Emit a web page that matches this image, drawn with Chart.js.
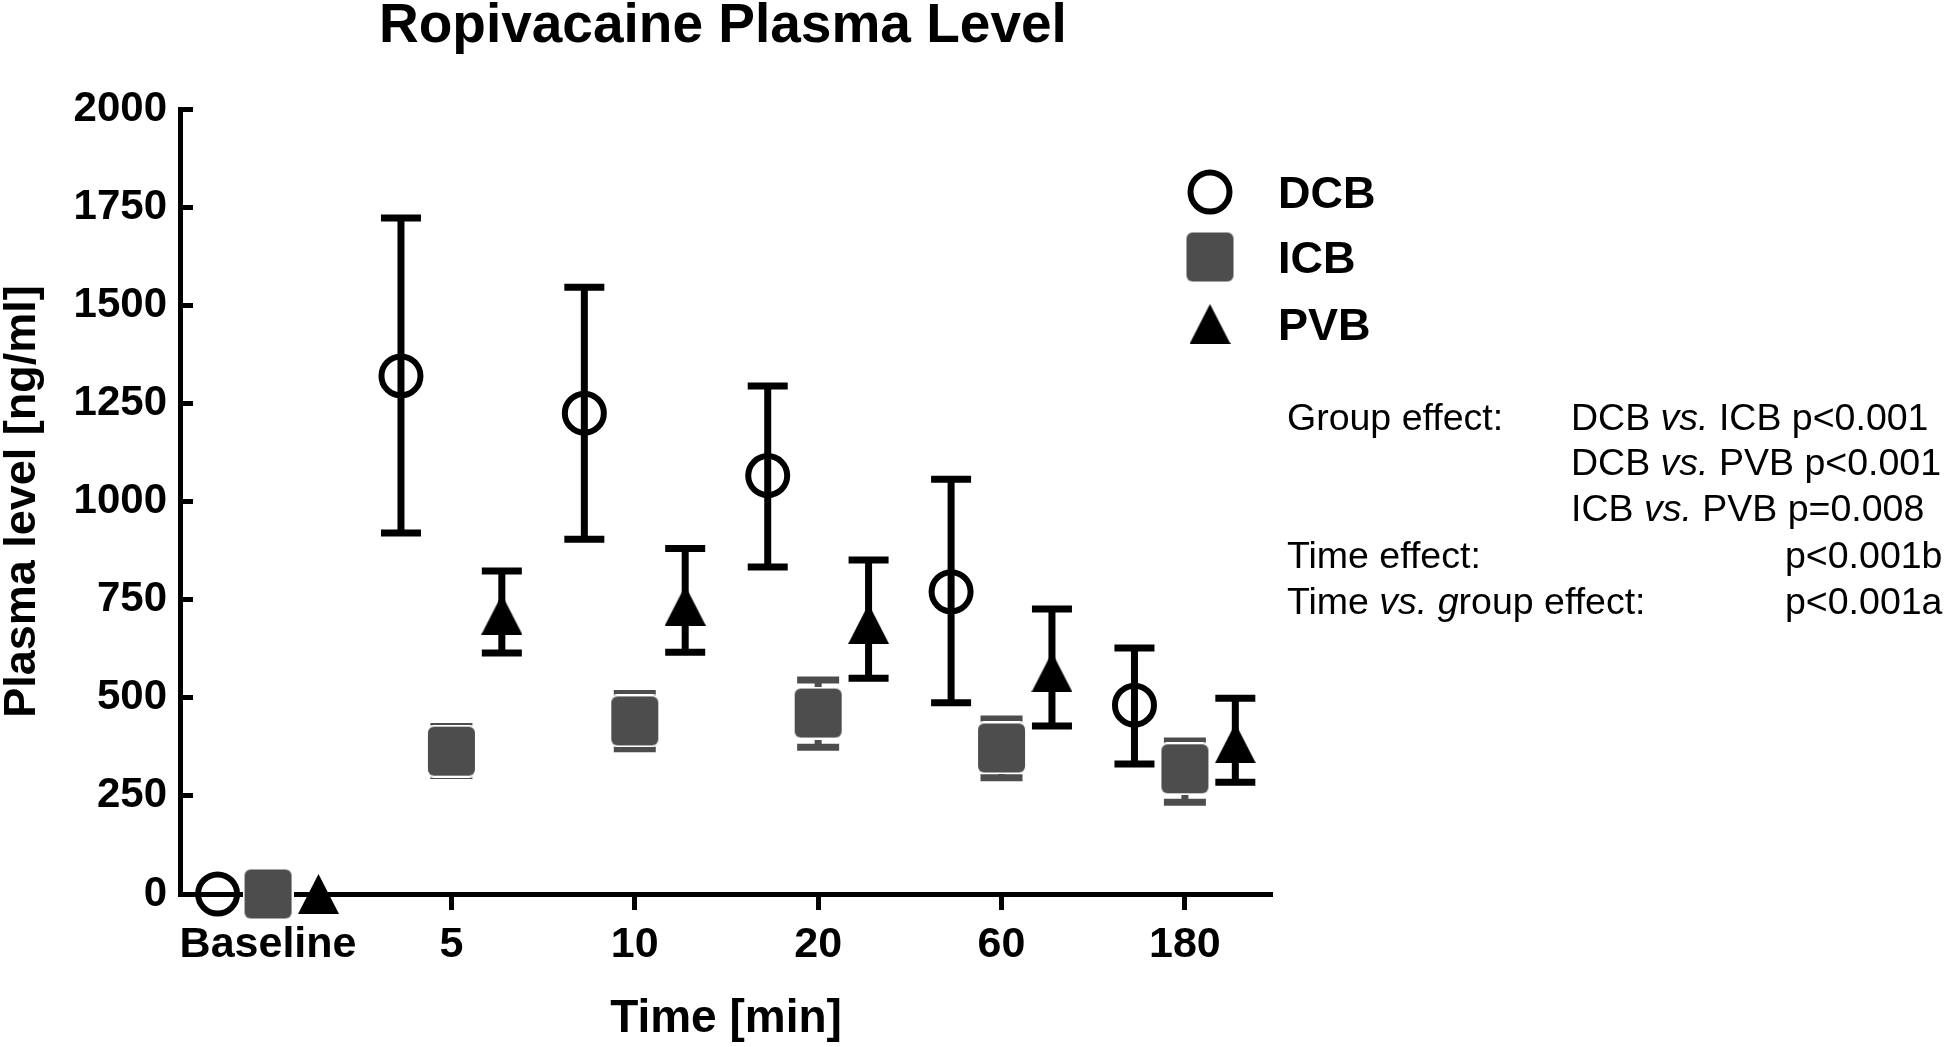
<!DOCTYPE html>
<html>
<head>
<meta charset="utf-8">
<script src="https://cdn.jsdelivr.net/npm/chart.js@4.4.1/dist/chart.umd.min.js"></script>
<style>
  html, body { margin: 0; padding: 0; background: #fff; }
  #wrap { position: relative; width: 1946px; height: 1047px; font-family: "Liberation Sans", Arial, sans-serif; color: #000; }
  #chart { position: absolute; left: 0; top: 0; }
  .txt { position: absolute; white-space: nowrap; }
  .title { left: 379px; top: -4px; font-size: 55px; line-height: 55px; font-weight: bold; }
  .leg { left: 1278px; font-size: 45px; line-height: 45px; font-weight: bold; }
  .stat { font-size: 37.5px; line-height: 37.5px; }
</style>
</head>
<body>
<div id="wrap">
  <canvas id="chart" width="1946" height="1047"></canvas>
  <div class="txt title">Ropivacaine Plasma Level</div>
  <div class="txt leg" style="top:170px">DCB</div>
  <div class="txt leg" style="top:235px">ICB</div>
  <div class="txt leg" style="top:302px">PVB</div>
  <div class="txt stat" style="left:1287px;top:399px">Group effect:</div>
  <div class="txt stat" style="left:1571px;top:399px">DCB <i>vs.</i> ICB p&lt;0.001</div>
  <div class="txt stat" style="left:1571px;top:444px">DCB <i>vs.</i> PVB p&lt;0.001</div>
  <div class="txt stat" style="left:1571px;top:490px">ICB <i>vs.</i> PVB p=0.008</div>
  <div class="txt stat" style="left:1287px;top:537px">Time effect:</div>
  <div class="txt stat" style="left:1785px;top:537px">p&lt;0.001b</div>
  <div class="txt stat" style="left:1287px;top:583px">Time <i>vs. g</i>roup effect:</div>
  <div class="txt stat" style="left:1785px;top:583px">p&lt;0.001a</div>
</div>
<script>
const timeLabels = ["Baseline", "5", "10", "20", "60", "180"];

const dcbMean = [0, 1320, 1225, 1066, 770, 481];
const dcbUpper = [0, 1722, 1546, 1294, 1057, 627];
const dcbLower = [0, 920, 904, 833, 487, 331];

const icbMean = [0, 364, 441, 461, 372, 319];
const icbUpper = [0, 427, 511, 545, 446, 390];
const icbLower = [0, 302, 370, 374, 296, 234];

const pvbMean = [0, 712, 735, 688, 565, 384];
const pvbUpper = [0, 823, 880, 851, 726, 499];
const pvbLower = [0, 614, 616, 550, 428, 285];

const yTicks = [0, 250, 500, 750, 1000, 1250, 1500, 1750, 2000];

const groupOffset = 0.275;
const FONT = "'Liberation Sans', Arial, sans-serif";

// marker images (ICB block, PVB triangle)
function makeSquare() {
    const c = document.createElement("canvas");
    c.width = 51; c.height = 53;
    const g = c.getContext("2d");
    chamfer(g, 0, 0, 51, 53, 8);
    g.fillStyle = "#fff"; g.fill();
    chamfer(g, 2, 2, 47, 49, 6);
    g.fillStyle = "#4d4d4d"; g.fill();
    return c;
}

function chamfer(g, x, y, w, h, r) {
    g.beginPath();
    g.moveTo(x + r, y);
    g.lineTo(x + w - r, y);
    g.arcTo(x + w, y, x + w, y + r, r);
    g.lineTo(x + w, y + h - r);
    g.arcTo(x + w, y + h, x + w - r, y + h, r);
    g.lineTo(x + r, y + h);
    g.arcTo(x, y + h, x, y + h - r, r);
    g.lineTo(x, y + r);
    g.arcTo(x, y, x + r, y, r);
    g.closePath();
}

function makeTriangle() {
    const c = document.createElement("canvas");
    c.width = 41; c.height = 40;
    const g = c.getContext("2d");
    g.beginPath();
    g.moveTo(20.5, 0);
    g.lineTo(41, 40);
    g.lineTo(0, 40);
    g.closePath();
    g.fillStyle = "#000"; g.fill();
    return c;
}

const squareImg = makeSquare();
const triangleImg = makeTriangle();

function points(means, shift) {
    return means.map((v, i) => ({ x: i + shift, y: v }));
}

// error bars drawn under the markers
const errorBars = {
    id: "errorBars",
    beforeDatasetsDraw(chart) {
        const { ctx, scales: { x, y } } = chart;
        ctx.save();
        ctx.lineWidth = 7;
        ctx.lineCap = "butt";
        chart.data.datasets.forEach(ds => {
            ctx.strokeStyle = ds.barColor;
            const half = ds.capHalf;
            ds.data.forEach((p, i) => {
                const hi = ds.upper[i], lo = ds.lower[i];
                if (hi === lo) return;
                const px = x.getPixelForValue(p.x);
                const top = y.getPixelForValue(hi);
                const bot = y.getPixelForValue(lo);
                ctx.beginPath();
                ctx.moveTo(px, top); ctx.lineTo(px, bot);
                ctx.moveTo(px - half, top); ctx.lineTo(px + half, top);
                ctx.moveTo(px - half, bot); ctx.lineTo(px + half, bot);
                ctx.stroke();
            });
        });
        ctx.restore();
    }
};

// legend symbols next to the html labels
const legendX = 1210;
const legendRows = [192, 257, 324];
const legendIcons = {
    id: "legendIcons",
    afterDraw(chart) {
        const { ctx } = chart;
        chart.data.datasets.forEach((ds, i) => {
            ctx.save();
            ctx.strokeStyle = ds.pointBorderColor || "#000";
            ctx.fillStyle = ds.pointBackgroundColor || "#000";
            ctx.lineWidth = ds.pointBorderWidth || 0;
            Chart.helpers.drawPoint(ctx, {
                pointStyle: ds.pointStyle,
                radius: ds.pointRadius,
                borderWidth: ds.pointBorderWidth || 0,
                rotation: 0
            }, legendX, legendRows[i]);
            ctx.restore();
        });
    }
};

new Chart(document.getElementById("chart"), {
    type: "scatter",
    data: {
        datasets: [
            {
                label: "DCB",
                data: points(dcbMean, -groupOffset),
                upper: dcbUpper, lower: dcbLower, barColor: "#000", capHalf: 20,
                pointStyle: "circle",
                pointRadius: 19.5,
                pointBorderWidth: 6,
                pointBorderColor: "#000",
                pointBackgroundColor: "rgba(0,0,0,0)",
                clip: false
            },
            {
                label: "ICB",
                data: points(icbMean, 0),
                upper: icbUpper, lower: icbLower, barColor: "#4d4d4d", capHalf: 21,
                pointStyle: squareImg,
                pointRadius: 24,
                pointBorderWidth: 0,
                clip: false
            },
            {
                label: "PVB",
                data: points(pvbMean, groupOffset),
                upper: pvbUpper, lower: pvbLower, barColor: "#000", capHalf: 20,
                pointStyle: triangleImg,
                pointRadius: 20,
                pointBorderWidth: 0,
                clip: false
            }
        ]
    },
    options: {
        responsive: false,
        animation: false,
        events: [],
        devicePixelRatio: 1,
        layout: { padding: { top: 109, right: 674, bottom: 0, left: 0 } },
        plugins: {
            legend: { display: false },
            tooltip: { enabled: false },
            title: { display: false }
        },
        scales: {
            x: {
                type: "linear",
                min: -0.48,
                max: 5.475,
                afterBuildTicks: scale => {
                    scale.ticks = timeLabels.map((_, i) => ({ value: i }));
                },
                afterFit: scale => { scale.height = 153; },
                ticks: {
                    callback: v => timeLabels[v],
                    color: "#000",
                    padding: 9,
                    maxRotation: 0,
                    font: { family: FONT, size: 43, weight: "bold" }
                },
                grid: {
                    drawOnChartArea: false,
                    tickLength: 16,
                    tickWidth: 5,
                    tickColor: ctx => ctx.index === 0 ? "rgba(0,0,0,0)" : "#000"
                },
                border: { color: "#000", width: 5 },
                title: {
                    display: true,
                    text: "Time [min]",
                    color: "#000",
                    padding: { top: 0, bottom: 0 },
                    font: { family: FONT, size: 46, weight: "bold" }
                }
            },
            y: {
                min: 0,
                max: 2000,
                afterBuildTicks: scale => {
                    scale.ticks = yTicks.map(v => ({ value: v }));
                },
                afterFit: scale => { scale.width = 180; },
                ticks: {
                    callback: v => String(v),
                    color: "#000",
                    padding: 26,
                    font: { family: FONT, size: 42, weight: "bold" }
                },
                grid: {
                    drawOnChartArea: false,
                    tickLength: -13,
                    tickWidth: 5,
                    tickColor: "#000"
                },
                border: { color: "#000", width: 5 },
                title: {
                    display: true,
                    text: "Plasma level [ng/ml]",
                    color: "#000",
                    padding: 0,
                    font: { family: FONT, size: 45, weight: "bold", lineHeight: 1 }
                }
            }
        }
    },
    plugins: [errorBars, legendIcons]
});
</script>
</body>
</html>
